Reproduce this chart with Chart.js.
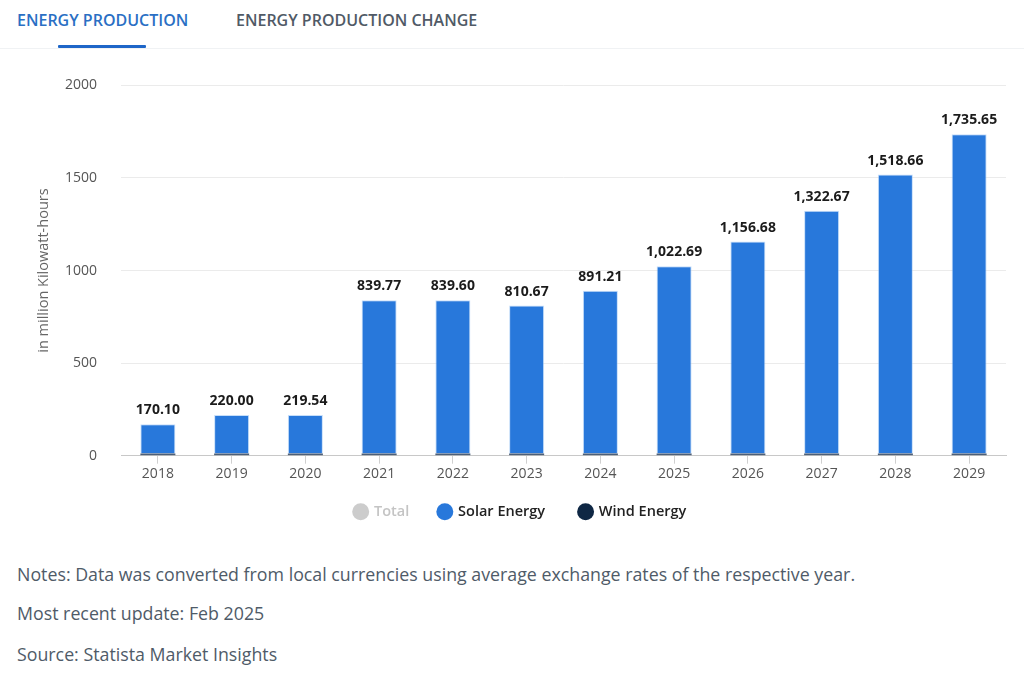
<!DOCTYPE html>
<html>
<head>
<meta charset="utf-8">
<script src="https://cdn.jsdelivr.net/npm/chart.js@4.4.1/dist/chart.umd.min.js"></script>
<style>
  html, body { margin: 0; padding: 0; background: #fff; }
  body { width: 1024px; height: 680px; position: relative; overflow: hidden; font-family: "Open Sans", sans-serif; }
  .tabs { position: absolute; top: 0; left: 0; width: 1024px; height: 48px; border-bottom: 1px solid #f0f2f4; }
  .tab { position: absolute; top: 9px; font-size: 16px; font-weight: 600; }
  .tab.active { left: 17px; color: #2a6fc4; }
  .tab.other { left: 236px; color: #505a66; }
  .underline { position: absolute; left: 58px; top: 45px; width: 88px; height: 3px; background: #1e66c8; border-radius: 1px; }
  #wrap { position: absolute; left: 0; top: 53px; width: 1024px; height: 486px; }
  .note { position: absolute; left: 17px; font-size: 17.8px; color: #4f5b68; }
</style>
</head>
<body>
<div class="tabs">
  <div class="tab active">ENERGY PRODUCTION</div>
  <div class="tab other">ENERGY PRODUCTION CHANGE</div>
  <div class="underline"></div>
</div>
<div id="wrap"><canvas id="grafico"></canvas></div>
<div class="note" style="top:562px">Notes: Data was converted from local currencies using average exchange rates of the respective year.</div>
<div class="note" style="top:601px">Most recent update: Feb 2025</div>
<div class="note" style="top:642px">Source: Statista Market Insights</div>

<script>
// Datos
const anios = ['2018', '2019', '2020', '2021', '2022', '2023', '2024', '2025', '2026', '2027', '2028', '2029'];
const total = [170.10, 220.00, 219.54, 839.77, 839.60, 810.67, 891.21, 1022.69, 1156.68, 1322.67, 1518.66, 1735.65];
const eolica = [12, 12, 12, 12, 12, 12, 12, 12, 12, 12, 12, 12];
const solar = [158.10, 208.00, 207.54, 827.77, 827.60, 798.67, 879.21, 1010.69, 1144.68, 1310.67, 1506.66, 1723.65];
const ticksY = [0, 500, 1000, 1500, 2000];

const azul = '#2878db';
const marino = '#0f2744';

// Etiquetas de total encima de cada barra
const etiquetasTotal = {
    id: 'etiquetasTotal',
    afterDatasetsDraw(chart) {
        const ctx = chart.ctx;
        const x = chart.scales.x;
        const y = chart.scales.y;
        ctx.save();
        ctx.font = 'bold 14px "Open Sans", sans-serif';
        ctx.fillStyle = '#1b1b1b';
        ctx.textAlign = 'center';
        ctx.textBaseline = 'bottom';
        total.forEach((v, i) => {
            const txt = v.toLocaleString('en-US', { minimumFractionDigits: 2, maximumFractionDigits: 2 });
            ctx.fillText(txt, x.getPixelForValue(i), y.getPixelForValue(v) - 7);
        });
        ctx.restore();
    }
};

const ctx = document.getElementById('grafico').getContext('2d');
new Chart(ctx, {
    type: 'bar',
    data: {
        labels: anios,
        datasets: [
            {
                label: 'Wind Energy',
                data: eolica,
                backgroundColor: '#4c5f78',
                barPercentage: 0.475,
                categoryPercentage: 1,
            },
            {
                label: 'Solar Energy',
                data: solar,
                backgroundColor: azul,
                borderColor: 'rgba(160,200,245,0.6)',
                borderWidth: { left: 1, right: 1, top: 1, bottom: 0 },
                barPercentage: 0.475,
                categoryPercentage: 1,
            }
        ]
    },
    options: {
        responsive: true,
        maintainAspectRatio: false,
        animation: false,
        layout: { padding: { top: 17, right: 18, left: 35, bottom: 10 } },
        plugins: {
            tooltip: { enabled: false },
            legend: {
                position: 'bottom',
                onClick: () => {},
                labels: {
                    usePointStyle: true,
                    pointStyle: 'circle',
                    boxWidth: 12,
                    boxHeight: 12,
                    padding: 20,
                    color: '#222',
                    font: { family: '"Open Sans", sans-serif', size: 14.5, weight: '600' },
                    generateLabels: () => [
                        { text: 'Total\u2002\u2009', fillStyle: '#cccccc', strokeStyle: '#cccccc', fontColor: '#c4c4c4', lineWidth: 0, pointStyle: 'circle', hidden: false },
                        { text: 'Solar Energy\u2003', fillStyle: azul, strokeStyle: azul, fontColor: '#222', lineWidth: 0, pointStyle: 'circle', hidden: false },
                        { text: 'Wind Energy', fillStyle: marino, strokeStyle: marino, fontColor: '#222', lineWidth: 0, pointStyle: 'circle', hidden: false },
                    ]
                }
            }
        },
        scales: {
            x: {
                stacked: true,
                grid: { display: true, drawOnChartArea: false, drawTicks: true, tickLength: 8, offset: false, color: '#d0d0d0' },
                border: { display: true, color: '#c8c8c8' },
                ticks: { color: '#555', padding: 2, font: { family: '"Open Sans", sans-serif', size: 14 } }
            },
            y: {
                stacked: true,
                min: 0,
                max: 2000,
                afterBuildTicks: (axis) => { axis.ticks = ticksY.map(v => ({ value: v })); },
                afterFit: (axis) => { axis.width = 86; },
                grid: { color: '#ebebeb', drawTicks: false },
                border: { display: false },
                ticks: {
                    color: '#555',
                    padding: 24,
                    font: { family: '"Open Sans", sans-serif', size: 14 },
                    callback: (v) => String(v)
                },
                title: {
                    display: true,
                    text: 'in million Kilowatt-hours',
                    color: '#666',
                    padding: { top: 0, bottom: 4 },
                    font: { family: '"Open Sans", sans-serif', size: 14.5 }
                }
            }
        }
    },
    plugins: [etiquetasTotal]
});
</script>
</body>
</html>
